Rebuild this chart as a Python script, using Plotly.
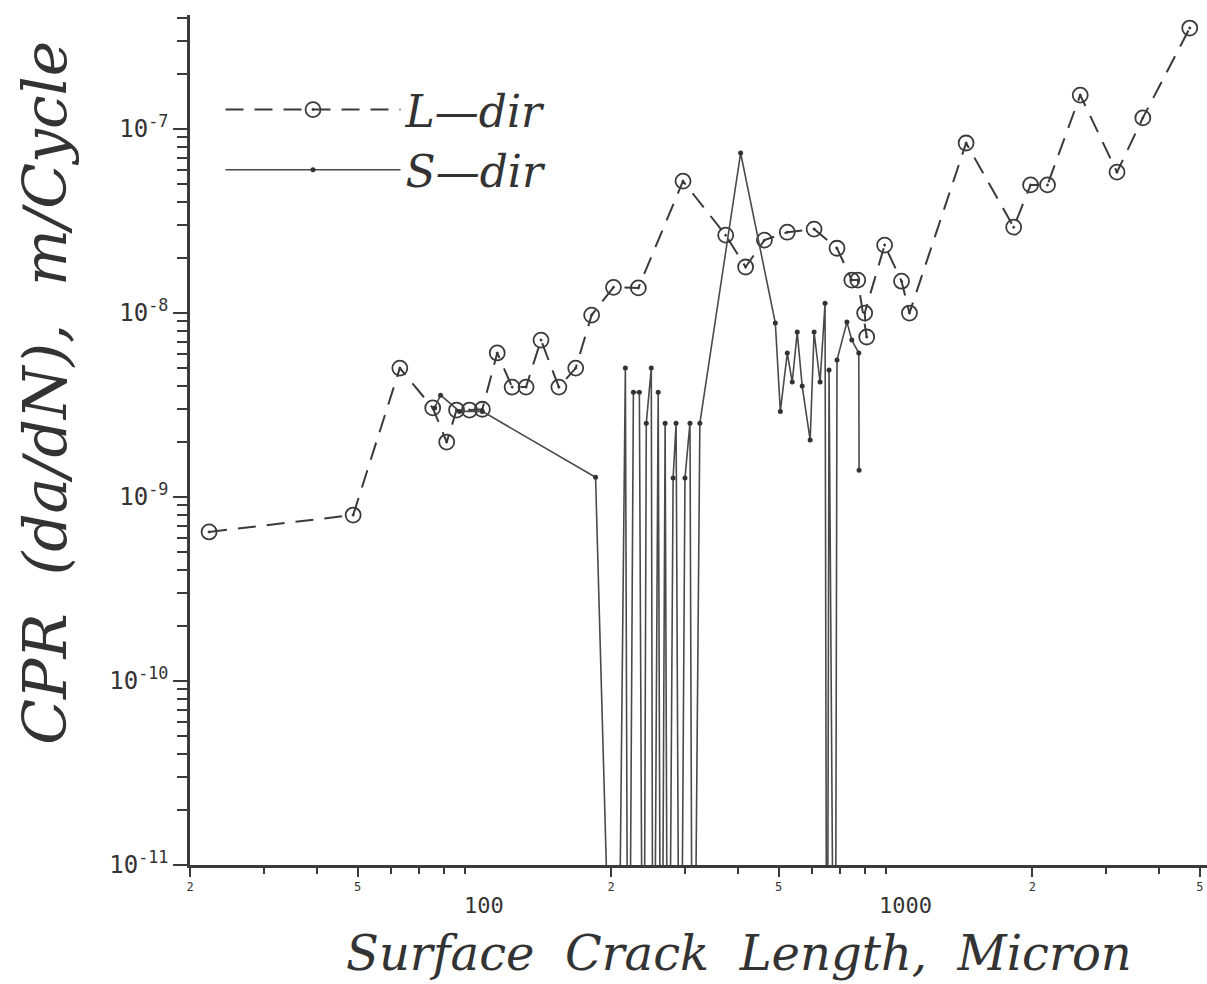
import math
import plotly.graph_objects as go

# ---- data ----
l_dir_x = [22.2, 48.8, 63.0, 75.4, 81.4, 85.9, 92.2, 98.9, 107.3, 116.4, 125.6, 136.3,
           150.3, 164.8, 179.8, 202.6, 232.1, 296.3, 374.2, 417.2, 462.4, 524.0, 606.7,
           687.7, 745.7, 770.4, 809.0, 800.0, 892.3, 978.6, 1022.0, 1393.0, 1807.0,
           1982.0, 2174.0, 2600.0, 3179.0, 3661.0, 4732.0]
l_dir_y = [6.46e-10, 7.98e-10, 5.02e-9, 3.05e-9, 1.99e-9, 2.97e-9, 2.97e-9, 3.0e-9,
           6.07e-9, 3.96e-9, 3.96e-9, 7.13e-9, 3.96e-9, 5.02e-9, 9.75e-9, 1.38e-8,
           1.37e-8, 5.21e-8, 2.65e-8, 1.78e-8, 2.49e-8, 2.75e-8, 2.86e-8, 2.25e-8,
           1.51e-8, 1.51e-8, 7.41e-9, 1.0e-8, 2.34e-8, 1.49e-8, 1.0e-8, 8.4e-8,
           2.93e-8, 4.97e-8, 4.97e-8, 1.53e-7, 5.83e-8, 1.15e-7, 3.54e-7]

# values far below the axis floor (growth rate ~0) are given as 1e-13
s_dir_x = [76.2, 78.7, 87.3, 98.9, 183.7, 206.0, 216.2, 219.8, 225.9, 233.4, 238.5,
           242.4, 249.1, 251.8, 258.7, 263.0, 268.7, 273.2, 280.7, 285.3, 291.5, 299.5,
           307.8, 312.8, 324.9, 406.0, 490.9, 504.5, 524.0, 538.4, 553.3, 568.5, 593.8,
           606.7, 626.9, 644.2, 651.3, 658.4, 680.2, 687.7, 726.0, 745.7, 774.7, 776.0]
s_dir_y = [3.05e-9, 3.58e-9, 2.92e-9, 2.92e-9, 1.28e-9, 1e-13, 5.02e-9, 1e-13, 3.71e-9,
           3.71e-9, 1e-13, 2.52e-9, 5.02e-9, 1e-13, 3.71e-9, 1e-13, 2.52e-9, 1e-13,
           1.27e-9, 2.52e-9, 1e-13, 1.27e-9, 2.52e-9, 1e-13, 2.52e-9, 7.41e-8, 8.83e-9,
           2.92e-9, 6.06e-9, 4.22e-9, 7.88e-9, 4.01e-9, 2.04e-9, 7.88e-9, 4.22e-9,
           1.13e-8, 1e-13, 4.90e-9, 1e-13, 5.55e-9, 8.93e-9, 7.13e-9, 6.06e-9, 1.40e-9]

x_small_vals = [20, 50, 200, 500, 2000, 5000]
x_small_text = ["2", "5", "2", "5", "2", "5"]
x_big_vals = [100, 1000]
x_big_text = ["100", "1000"]
y_major_vals = [1e-11, 1e-10, 1e-9, 1e-8, 1e-7]
y_major_text = ["10<sup>-11</sup>", "10<sup>-10</sup>", "10<sup>-9</sup>",
                "10<sup>-8</sup>", "10<sup>-7</sup>"]

x_minor = [m * d for d in (10, 100, 1000) for m in range(2, 10)]
y_minor = [m * 10.0 ** e for e in range(-11, -6) for m in range(2, 10)]

ink = "#3a3a3a"
mono = "DejaVu Sans Mono"
serif = "DejaVu Serif"

fig = go.Figure()
fig.add_trace(go.Scatter(
    x=l_dir_x, y=l_dir_y, name="L\u2014dir", mode="lines+markers",
    line=dict(color=ink, width=2, dash="18px,11px"),
    marker=dict(symbol="circle-open-dot", size=15, color=ink, line=dict(width=1.8, color=ink)),
))
fig.add_trace(go.Scatter(
    x=s_dir_x, y=s_dir_y, name="S\u2014dir", mode="lines+markers",
    line=dict(color="#4a4a4a", width=1.6),
    marker=dict(symbol="circle", size=5, color="#333333"),
))

annotations = [
    dict(text=t, xref="x", yref="paper", x=math.log10(v), y=-0.03,
         xanchor="center", yanchor="top", showarrow=False,
         font=dict(family=mono, size=22, color="#333"))
    for v, t in zip(x_big_vals, x_big_text)
]
annotations += [
    dict(text="Surface  Crack  Length,  Micron", xref="paper", yref="paper",
         x=0.54, y=-0.104, xanchor="center", yanchor="middle", showarrow=False,
         font=dict(family=serif, size=48, color="#333", style="italic")),
    dict(text="CPR  (da/dN),  m/Cycle", xref="paper", yref="paper",
         x=-0.142, y=0.555, xanchor="center", yanchor="middle", showarrow=False,
         textangle=-90,
         font=dict(family=serif, size=60, color="#333", style="italic")),
]

fig.update_layout(
    width=1207, height=984,
    margin=dict(l=190, r=0, t=15, b=119),
    paper_bgcolor="white", plot_bgcolor="white",
    showlegend=True,
    legend=dict(x=0.03, y=0.93, xanchor="left", yanchor="top",
                font=dict(family=serif, size=44, color="#333", style="italic"),
                bgcolor="rgba(0,0,0,0)", itemwidth=175, tracegroupgap=0),
    xaxis=dict(type="log", range=[math.log10(20), math.log10(5200)],
               tickmode="array", tickvals=x_small_vals, ticktext=x_small_text,
               tickfont=dict(family=mono, size=12, color="#333"),
               ticks="outside", ticklen=9, tickwidth=2, tickcolor=ink,
               showline=True, linecolor=ink, linewidth=2.5, showgrid=False, zeroline=False,
               minor=dict(tickmode="array", tickvals=x_minor, ticks="outside", ticklen=6,
                          tickwidth=1.5, tickcolor=ink, showgrid=False)),
    yaxis=dict(type="log", range=[-11, -6.38],
               tickmode="array", tickvals=y_major_vals, ticktext=y_major_text,
               tickfont=dict(family=mono, size=24, color="#333"),
               ticks="outside", ticklen=14, tickwidth=2, tickcolor=ink,
               showline=True, linecolor=ink, linewidth=2.5, showgrid=False, zeroline=False,
               minor=dict(tickmode="array", tickvals=y_minor, ticks="outside", ticklen=10,
                          tickwidth=1.5, tickcolor=ink, showgrid=False)),
    annotations=annotations,
)

fig.write_html("out.html", config={"displayModeBar": False},
               post_script="document.body.style.margin='0';document.body.style.overflow='hidden';")
